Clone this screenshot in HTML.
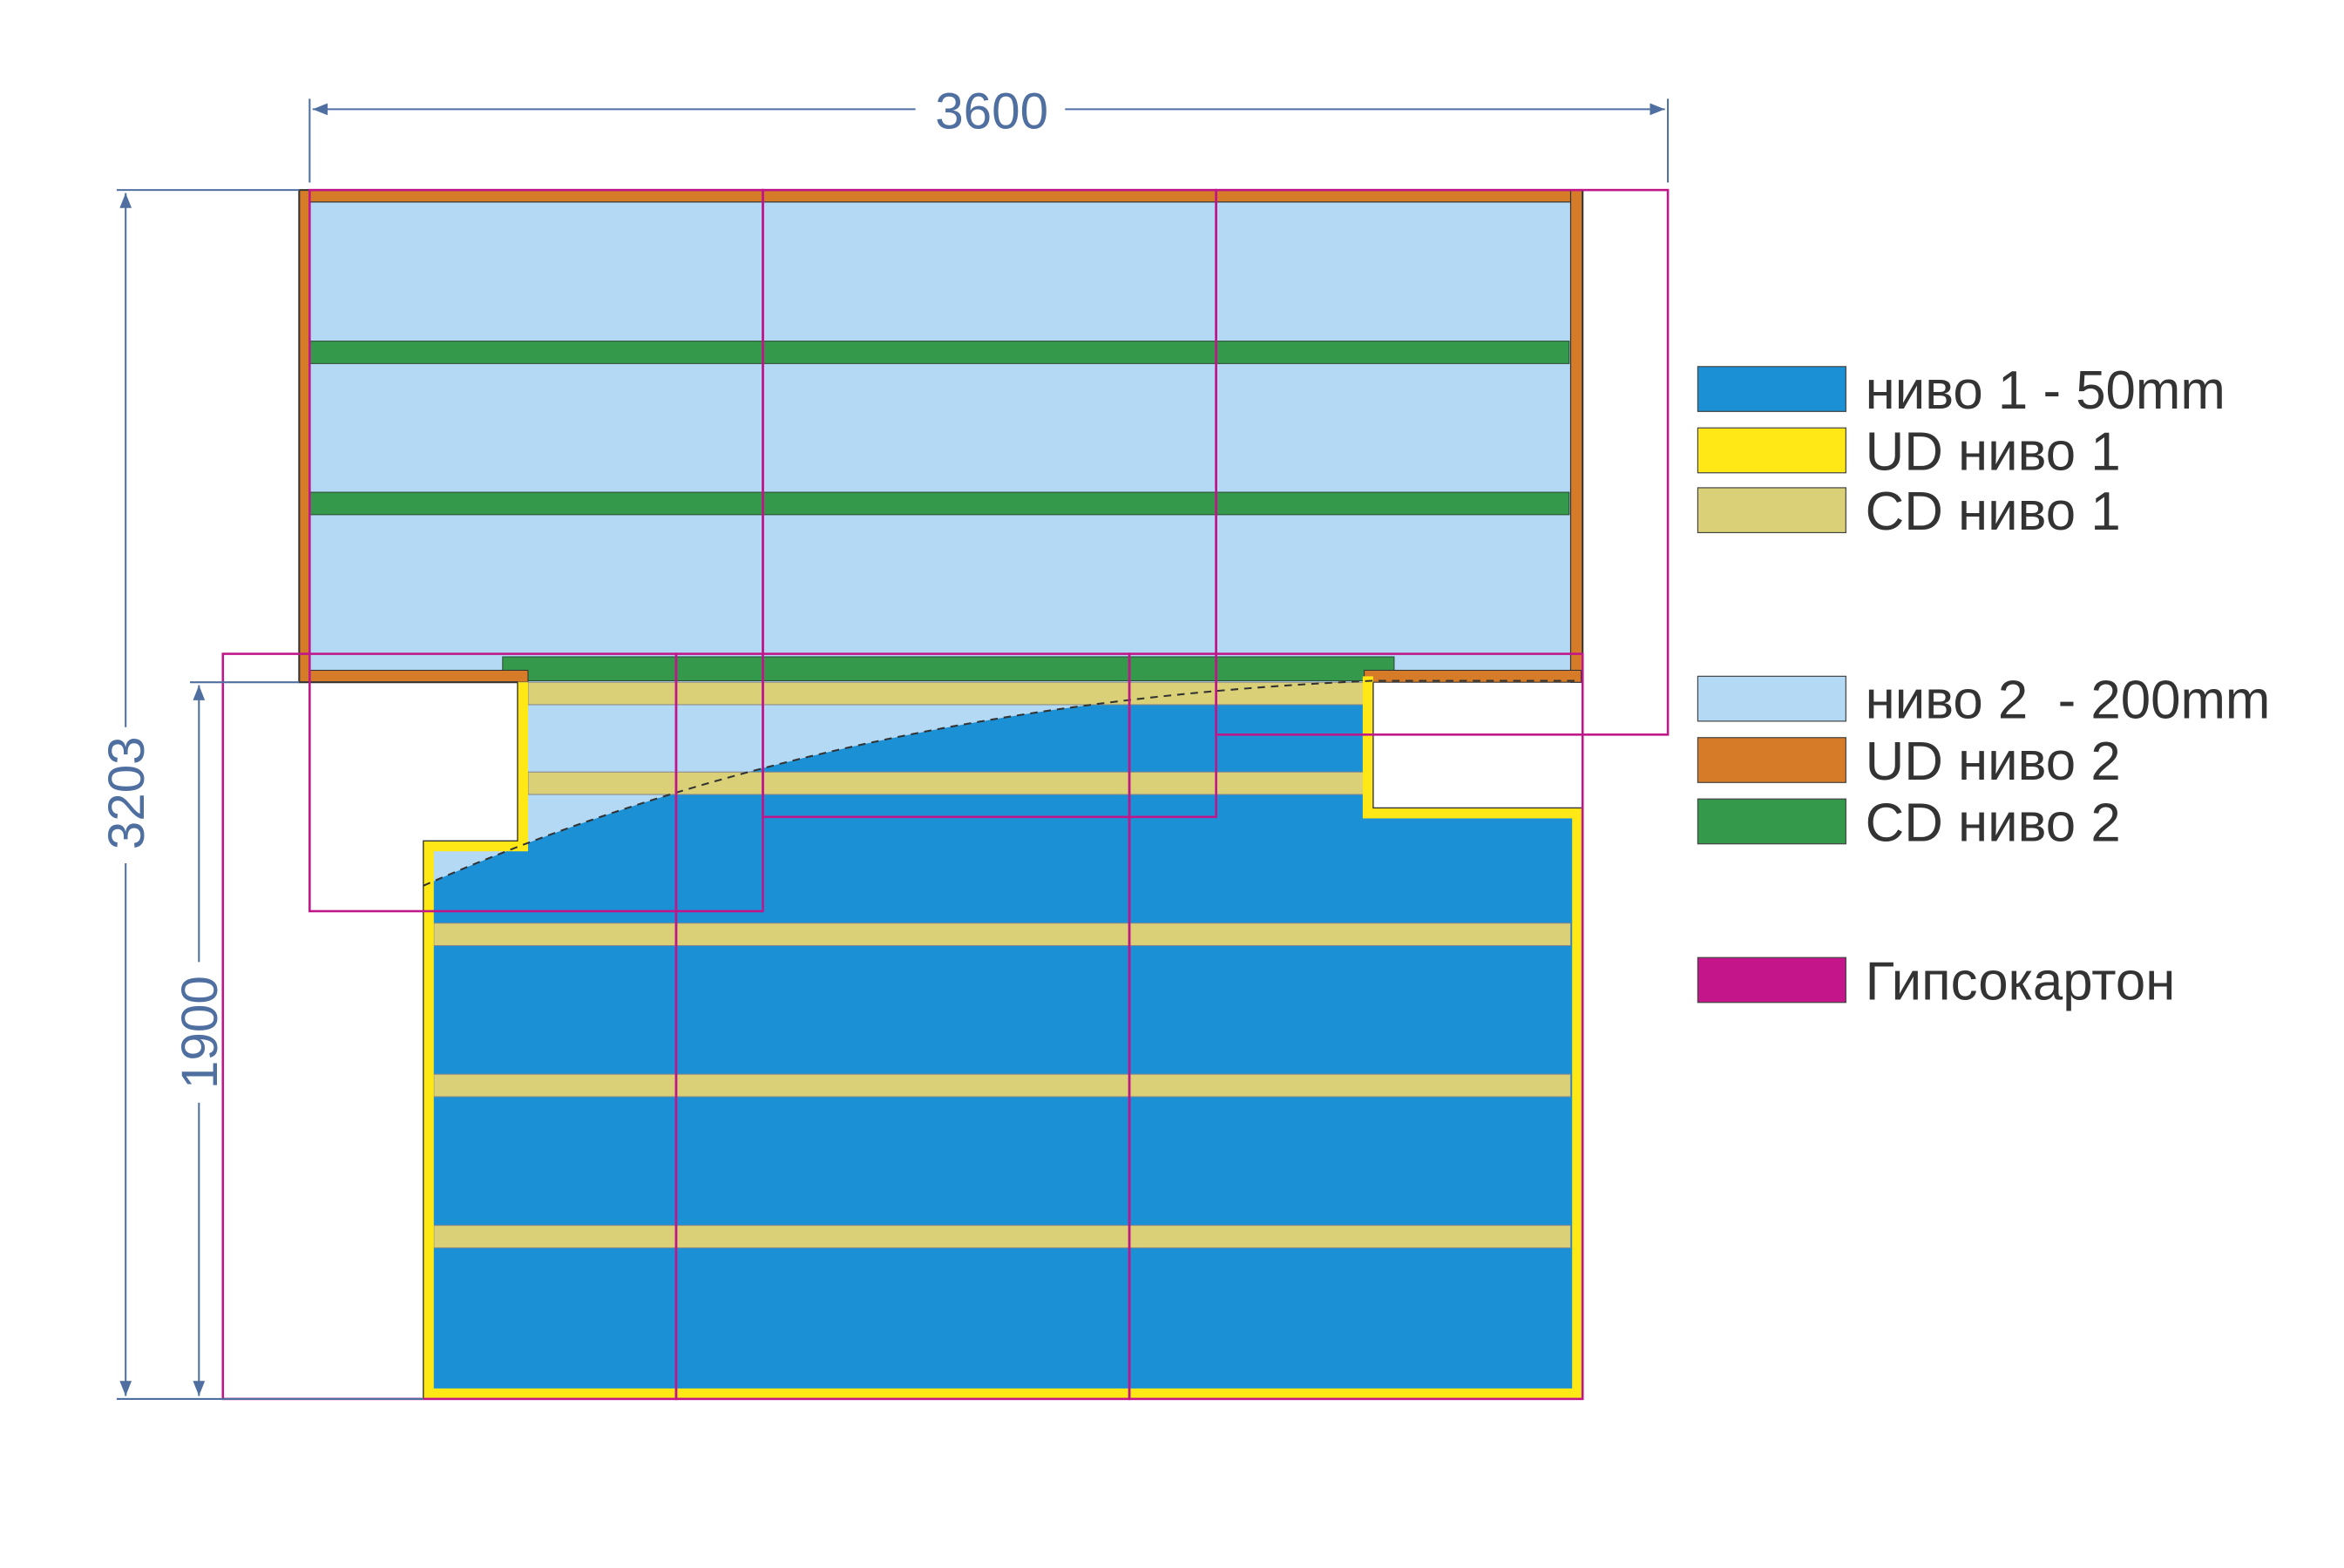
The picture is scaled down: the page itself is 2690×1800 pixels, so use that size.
<!DOCTYPE html>
<html><head><meta charset="utf-8"><style>
html,body{margin:0;padding:0;background:#fff;}
svg{display:block;}
text{font-family:"Liberation Sans","DejaVu Sans",sans-serif;}
</style></head><body>
<svg width="2690" height="1800" viewBox="0 0 1567 1048" preserveAspectRatio="none" xmlns="http://www.w3.org/2000/svg">
<defs>
<marker id="ar" viewBox="0 0 10 10" refX="10" refY="5" markerWidth="14" markerHeight="10" markerUnits="userSpaceOnUse" orient="auto-start-reverse"><path d="M0,1 L10,5 L0,9 z" fill="#4f6fa0"/></marker>
</defs>
<rect x="200" y="127" width="858" height="329" fill="#b3d9f4"/>
<rect x="200" y="127" width="858" height="8" fill="#d67b27" stroke="#333" stroke-width="0.7"/>
<rect x="200" y="127" width="7" height="329" fill="#d67b27"/>
<rect x="1050" y="127" width="8" height="329" fill="#d67b27" stroke="#333" stroke-width="0.7"/>
<rect x="207" y="228" width="842" height="15" fill="#35994c" stroke="#2a4a33" stroke-width="0.6"/>
<rect x="207" y="329" width="842" height="15" fill="#35994c" stroke="#2a4a33" stroke-width="0.6"/>
<rect x="336" y="439" width="596" height="16" fill="#35994c" stroke="#2a4a33" stroke-width="0.6"/>
<rect x="207" y="448" width="146" height="8" fill="#d67b27" stroke="#333" stroke-width="0.6"/>
<rect x="912" y="448" width="145" height="8" fill="#d67b27" stroke="#333" stroke-width="0.6"/>
<path d="M200,127 H1058 V456 M200,127 V456 H346" fill="none" stroke="#333" stroke-width="1.2"/>
<path d="M346,456 H918 V540 H1058 V935 H283 V562 H346 Z" fill="#1b90d4"/>
<path d="M346,456 H918 V455 Q560,470 283,592 V562 H346 Z" fill="#b3d9f4"/>
<rect x="353" y="456" width="559" height="15" fill="#d9d077" stroke="#888" stroke-width="0.6"/>
<rect x="353" y="516" width="559" height="15" fill="#d9d077" stroke="#888" stroke-width="0.6"/>
<rect x="290" y="617" width="760" height="15" fill="#d9d077" stroke="#888" stroke-width="0.6"/>
<rect x="290" y="718" width="760" height="15" fill="#d9d077" stroke="#888" stroke-width="0.6"/>
<rect x="290" y="819" width="760" height="15" fill="#d9d077" stroke="#888" stroke-width="0.6"/>
<path d="M349.5,456 V565.5 H286.5 V931.5 H1054.5 V543.5 H914.5 V452" fill="none" stroke="#ffe816" stroke-width="7"/>
<path d="M346,456 V562 H283 V935 H1058 V540 H918 V456" fill="none" stroke="#333" stroke-width="0.8"/>
<path d="M283,592 Q560,470 918,455 L1056,455" fill="none" stroke="#333" stroke-width="1.2" stroke-dasharray="5,4"/>
<g fill="none" stroke="#c0168a" stroke-width="1.5">
<rect x="207" y="127" width="303" height="482"/>
<rect x="510" y="127" width="303" height="419"/>
<rect x="813" y="127" width="302" height="364"/>
<rect x="149" y="437" width="303" height="498"/>
<rect x="452" y="437" width="303" height="498"/>
<rect x="755" y="437" width="303" height="498"/>
</g>
<g stroke="#4f6fa0" stroke-width="1.2" fill="none">
<line x1="207" y1="66" x2="207" y2="122"/>
<line x1="1115" y1="66" x2="1115" y2="122"/>
<line x1="209" y1="73" x2="612" y2="73" marker-start="url(#ar)"/>
<line x1="712" y1="73" x2="1113" y2="73" marker-end="url(#ar)"/>
<line x1="78" y1="127" x2="200" y2="127"/>
<line x1="78" y1="935" x2="283" y2="935"/>
<line x1="127" y1="456" x2="200" y2="456"/>
<line x1="84" y1="129" x2="84" y2="486" marker-start="url(#ar)"/>
<line x1="84" y1="577" x2="84" y2="933" marker-end="url(#ar)"/>
<line x1="133" y1="458" x2="133" y2="643" marker-start="url(#ar)"/>
<line x1="133" y1="737" x2="133" y2="933" marker-end="url(#ar)"/>
</g>
<g fill="#4f6fa0" font-size="34">
<text x="663" y="86" text-anchor="middle">3600</text>
<text transform="translate(96,530) rotate(-90)" text-anchor="middle">3203</text>
<text transform="translate(145,690) rotate(-90)" text-anchor="middle">1900</text>
</g>
<g stroke="#444" stroke-width="0.7">
<rect x="1135" y="245" width="99" height="30" fill="#1b90d4"/>
<rect x="1135" y="286" width="99" height="30" fill="#ffe816"/>
<rect x="1135" y="326" width="99" height="30" fill="#d9d077"/>
<rect x="1135" y="452" width="99" height="30" fill="#b3d9f4"/>
<rect x="1135" y="493" width="99" height="30" fill="#d67b27"/>
<rect x="1135" y="534" width="99" height="30" fill="#35994c"/>
<rect x="1135" y="640" width="99" height="30" fill="#c4168a"/>
</g>
<g fill="#333" font-size="36">
<text x="1247" y="273">ниво 1 - 50mm</text>
<text x="1247" y="314">UD ниво 1</text>
<text x="1247" y="354">CD ниво 1</text>
<text x="1247" y="480" xml:space="preserve">ниво 2  - 200mm</text>
<text x="1247" y="521">UD ниво 2</text>
<text x="1247" y="562">CD ниво 2</text>
<text x="1247" y="668">Гипсокартон</text>
</g>
</svg>
</body></html>
